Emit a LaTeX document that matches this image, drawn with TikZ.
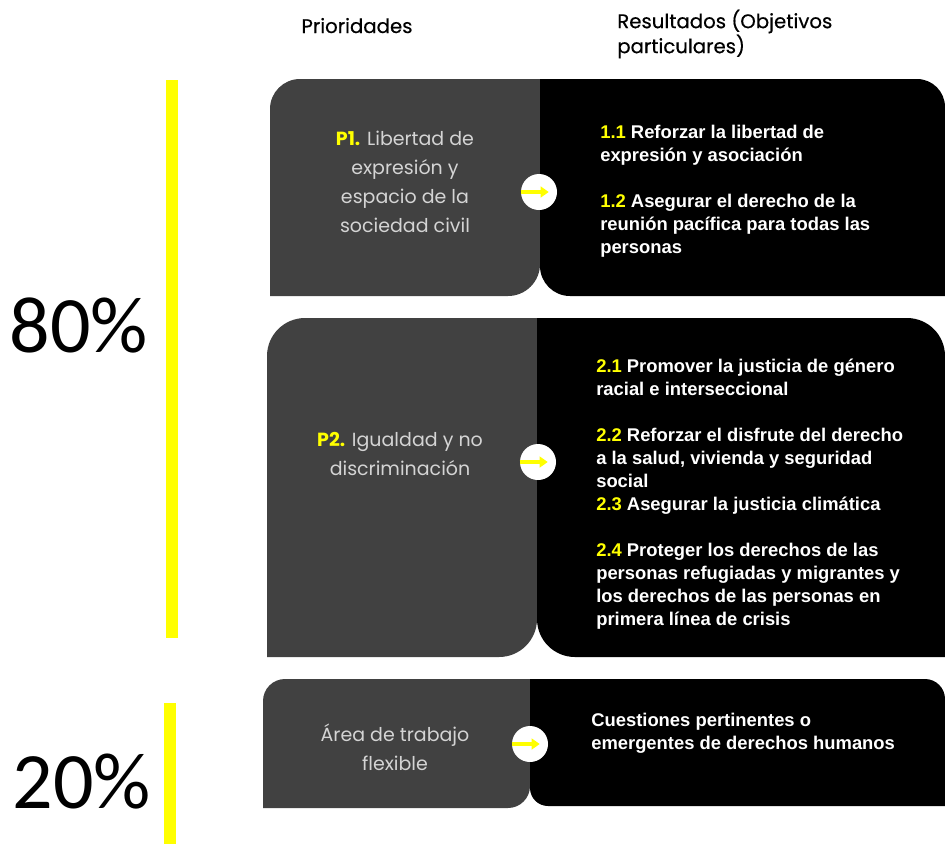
\documentclass[tikz,border=0pt]{standalone}
\usepackage{fontspec}
\usetikzlibrary{arrows.meta}
\newfontfamily\prio{Poppins}
\newfontfamily\cabfont[FakeBold=0.4]{Poppins}
\newfontfamily\resu{Liberation Sans}
\newfontfamily\pct{Carlito}
\definecolor{gris}{RGB}{65,65,65}
\definecolor{grisclaro}{RGB}{212,212,212}
\definecolor{amarillo}{RGB}{255,255,0}
\tikzset{
	gristxt/.style = {text = grisclaro, align = center, inner sep = 0, font = \prio\fontsize{14.25}{21.75}\selectfont},
	restxt/.style = {text = white, align = left, anchor = west, inner sep = 0, font = \resu\bfseries\fontsize{13.8}{17.25}\selectfont},
	cabecera/.style = {text = black, inner sep = 0, font = \cabfont\fontsize{14.8}{18.75}\selectfont},
	porcentaje/.style = {anchor = base, inner sep = 0, font = \pct\fontsize{60}{72}\selectfont},
	circ/.style = {circle, fill = white, minimum size = 27pt, inner sep = 0},
	flecha/.style = {amarillo, line width = 3pt, -{Triangle[length = 6pt, width = 8pt]}},
	barra/.style = {fill = amarillo}
}

\begin{document}
\begin{tikzpicture}[x = 0.75pt, y = 0.75pt]
		\useasboundingbox (0, 0) rectangle (945, -844);
		%\draw[gray, dotted] (0, 0) grid[step = 50] (945, -844);
		\node[cabecera, anchor = base] (hprio) at (357, -33) {Prioridades};
		\node[cabecera, align = left, anchor = west] (hres) at (617, -34) {Resultados (Objetivos\\particulares)};
		% barras y porcentajes
		\fill[barra] (166, -80) rectangle (178, -638);
		\fill[barra] (164, -703) rectangle (176, -844);
		\node[porcentaje] (p80) at (79, -352) {80\%};
		\node[porcentaje] (p20) at (82, -808) {20\%};
		% bloque 1
		\fill[gris] (270, -296) -- (270, -109) arc(180:90:30) -- (540, -79) -- (540, -264) arc(0:-90:32) -- cycle;
		\fill[black] (540, -79) -- (917, -79) arc(90:0:28) -- (945, -296) -- (570, -296) arc(270:180:30) -- cycle;
		\node[gristxt] (prio1) at (405, -182) {\textbf{\color{amarillo}P1.} Libertad de\\expresión y\\espacio de la\\sociedad civil};
		\node[restxt] (res1) at (600, -191.5) {{\color{amarillo}1.1} Reforzar la libertad de\\expresión y asociación\\[17.25pt]{\color{amarillo}1.2} Asegurar el derecho de la\\reunión pacífica para todas las\\personas};
		\node[circ] (c1) at (539, -192) {};
		\draw[flecha] (c1.west) -- ++(28, 0);
		% bloque 2
		\fill[gris] (267, -657) -- (267, -356) arc(180:90:38) -- (537, -318) -- (537, -619) arc(0:-90:38) -- cycle;
		\fill[black] (537, -318) -- (907, -318) arc(90:0:38) -- (945, -657) -- (575, -657) arc(270:180:38) -- cycle;
		\node[gristxt] (prio2) at (400, -454) {\textbf{\color{amarillo}P2.} Igualdad y no\\discriminación};
		\node[restxt] (res2) at (596, -494.5) {{\color{amarillo}2.1} Promover la justicia de género\\racial e interseccional\\[17.25pt]{\color{amarillo}2.2} Reforzar el disfrute del derecho\\a la salud, vivienda y seguridad\\social\\{\color{amarillo}2.3} Asegurar la justicia climática\\[17.25pt]{\color{amarillo}2.4} Proteger los derechos de las\\personas refugiadas y migrantes y\\los derechos de las personas en\\primera línea de crisis};
		\node[circ] (c2) at (538, -462) {};
		\draw[flecha] (c2.west) -- ++(28, 0);
		% bloque 3
		\fill[gris] (263, -808) -- (263, -701) arc(180:90:22) -- (530, -679) -- (530, -786) arc(0:-90:22) -- cycle;
		\fill[black] (530, -679) -- (925, -679) arc(90:0:20) -- (945, -806) -- (548, -806) arc(270:180:18) -- cycle;
		\node[gristxt] (prio3) at (395, -747) {Área de trabajo\\flexible};
		\node[restxt] (res3) at (591, -733.5) {Cuestiones pertinentes o\\emergentes de derechos humanos};
		\node[circ] (c3) at (530, -744) {};
		\draw[flecha] (c3.west) -- ++(28, 0);
	\end{tikzpicture}
\end{document}
